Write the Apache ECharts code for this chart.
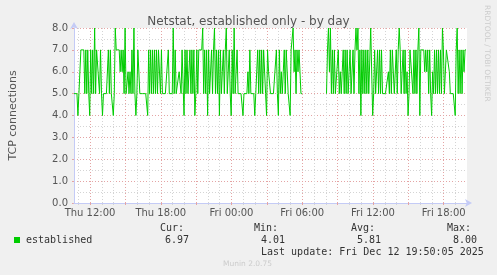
<!DOCTYPE html>
<html>
<head>
<meta charset="utf-8">
<script src="https://cdn.jsdelivr.net/npm/echarts@6/dist/echarts.min.js"></script>
<style>
html,body{margin:0;padding:0;background:#F0F0F0;}
#c{width:497px;height:275px;}
</style>
</head>
<body>
<div id="c"></div>
<script>
// ---- data (5-minute samples, TCP connections, "established") ----
const titleText = 'Netstat, established only - by day';
const yAxisName = 'TCP connections';
const startHour = 10.64;          // hours since Thu 00:00 at left edge of plot
const stepHour = 1 / 12;          // 5 minute samples
const sampleCount = 400;
const established = [
  5,5,5,5,4,5,5,7,7,7, 7,5,7,5,7,5,4,7,5,7, 5,8,5,7,7,7,5,7,5,4, 5,5,5,5,5,7,5,7,5,5,
  4,5,8,7,7,7,7,6,7,6, 7,5,8,5,5,6,5,6,5,7, 5,8,5,4,5,7,7,5,5,5, 5,5,5,5,5,4,7,5,7,5,
  7,5,7,5,7,5,7,7,5,7, 5,5,5,5,5,5,7,5,5,5, 5,8,5,7,5,5,5,6,6,5, 7,7,4,7,5,7,5,5,7,5,
  7,5,7,4,5,7,5,7,7,7, 7,8,5,7,5,7,4,7,5,5, 7,5,7,8,5,7,5,7,4,7, 5,6,7,5,7,8,5,5,7,5,
  4,7,5,8,5,5,7,5,5,5, 5,5,4,5,5,5,5,6,5,7, 5,5,5,5,4,5,5,7,5,7, 5,7,5,7,7,5,4,7,6,6,
  5,5,5,5,5,5,7,5,4,7, 5,6,5,6,7,5,7,7,5,5, 4,7,7,8,6,7,5,7,6,7, 7,5,5,null,null,null,null,null,null,null,
  null,null,null,null,null,null,null,null,null,null, null,null,null,null,null,null,null,5,7,8,
  6,8,5,7,5,7,5,5,5,7, 5,6,5,6,7,5,7,5,7,5, 6,7,5,5,7,5,7,8,7,8, 5,7,4,7,5,7,5,7,5,7,
  5,5,8,8,4,5,7,5,5,7, 5,7,5,7,5,5,5,5,5,5, 6,5,7,5,7,7,5,5,7,5, 7,8,7,5,5,7,5,7,5,6,
  4,5,7,7,7,5,7,5,7,5, 7,8,4,7,7,7,7,6,7,6, 7,5,7,5,4,6,5,7,5,7, 5,7,5,7,5,8,7,5,5,7,
  7,7,6,5,5,5,5,5,4,7, 8,5,7,5,7,5,7,6,7,7
];
const xLabelHours = [12, 18, 24, 30, 36, 42];
const xLabelTexts = ['Thu 12:00', 'Thu 18:00', 'Fri 00:00', 'Fri 06:00', 'Fri 12:00', 'Fri 18:00'];
const majorGridHours = [12, 15, 18, 21, 24, 27, 30, 33, 36, 39, 42];
const minorGridHours = [11, 13, 14, 16, 17, 19, 20, 22, 23, 25, 26, 28, 29, 31, 32, 34, 35, 37, 38, 40, 41, 43];
const statLabels = ['Cur:', 'Min:', 'Avg:', 'Max:'];
const statValues = ['6.97', '4.01', '5.81', '8.00'];
const seriesName = 'established';
const lastUpdate = 'Last update: Fri Dec 12 19:50:05 2025';
const footer = 'Munin 2.0.75';
const watermark = 'RRDTOOL / TOBI OETIKER';

// ---- build ----
const endHour = startHour + sampleCount * stepHour;
const points = established.map((v, i) => [startHour + i * stepHour, v]);

const MAJOR = '#e4a4a4';
const MINOR = '#d4d4d4';
const AXIS = '#c4cbf6';
const TXT = '#555555';
const SANS = '"DejaVu Sans", sans-serif';
const MONO = '"DejaVu Sans Mono", monospace';

const statX = [160, 254, 351, 447];
const valX = [165, 261, 357, 453];

const graphics = [
  {type:'rect', shape:{x:14, y:237, width:6, height:6}, style:{fill:'#00cc00'}},
  {type:'text', x:26, y:240, style:{text:seriesName, font:'10px '+MONO, fill:'#333', align:'left', verticalAlign:'middle', textAlign:'left', textVerticalAlign:'middle'}},
  {type:'text', x:261, y:252, style:{text:lastUpdate, font:'10px '+MONO, fill:'#333', align:'left', verticalAlign:'middle', textAlign:'left', textVerticalAlign:'middle'}},
  {type:'text', x:247.5, y:264, style:{text:footer, font:'7.5px '+SANS, fill:'#cccccc', align:'center', verticalAlign:'middle', textAlign:'center', textVerticalAlign:'middle'}},
  {type:'text', x:487, y:5, rotation:-Math.PI/2, style:{text:watermark, font:'7.5px '+SANS, fill:'#cccccc', align:'left', verticalAlign:'middle', textAlign:'left', textVerticalAlign:'middle'}}
];
statLabels.forEach((t, k) => graphics.push({type:'text', x:statX[k], y:228, style:{text:t, font:'10px '+MONO, fill:'#333', align:'left', verticalAlign:'middle', textAlign:'left', textVerticalAlign:'middle'}}));
statValues.forEach((t, k) => graphics.push({type:'text', x:valX[k], y:240, style:{text:t, font:'10px '+MONO, fill:'#333', align:'left', verticalAlign:'middle', textAlign:'left', textVerticalAlign:'middle'}}));

const chart = echarts.init(document.getElementById('c'), null, {renderer:'canvas'});
chart.setOption({
  animation: false,
  backgroundColor: '#F0F0F0',
  title: {
    text: titleText, left: 'center', top: 11,
    textStyle: {fontFamily: SANS, fontSize: 12, fontWeight: 'normal', color: TXT}
  },
  grid: {left: 67, top: 28, width: 400, height: 175, show: true, backgroundColor: '#ffffff', borderWidth: 0},
  xAxis: [
    {
      type: 'value', min: startHour, max: endHour, position: 'bottom', z: 3,
      axisLine: {show: true, lineStyle: {color: AXIS, width: 1}, symbol: ['none', 'arrow'], symbolSize: [6, 7], symbolOffset: [0, 5]},
      axisTick: {show: true, customValues: majorGridHours, length: 2, lineStyle: {color: MAJOR}},
      axisLabel: {
        customValues: xLabelHours, margin: 5, color: TXT, fontFamily: SANS, fontSize: 10,
        formatter: v => xLabelTexts[xLabelHours.indexOf(Math.round(v))] || ''
      },
      splitLine: {show: true, lineStyle: {color: MAJOR, type: [1, 2], width: 1}}
    },
    {
      type: 'value', min: startHour, max: endHour, position: 'bottom', offset: 0, z: 2,
      axisLine: {show: false},
      axisTick: {show: true, customValues: minorGridHours, length: 2, lineStyle: {color: MINOR}},
      axisLabel: {show: false},
      splitLine: {show: true, lineStyle: {color: MINOR, type: [1, 2], width: 1}}
    }
  ],
  yAxis: {
    type: 'value', min: 0, max: 8, interval: 1,
    name: yAxisName, nameLocation: 'middle', nameGap: 55, nameRotate: 90,
    nameTextStyle: {color: TXT, fontFamily: SANS, fontSize: 11},
    axisLine: {show: true, lineStyle: {color: AXIS, width: 1}, symbol: ['none', 'arrow'], symbolSize: [6, 7], symbolOffset: [0, 6]},
    axisTick: {show: true, length: 2, lineStyle: {color: MAJOR}},
    axisLabel: {margin: 6, color: TXT, fontFamily: SANS, fontSize: 10, formatter: v => v.toFixed(1)},
    splitLine: {show: true, lineStyle: {color: MAJOR, type: [1, 2], width: 1}},
    minorTick: {show: false, splitNumber: 2},
    minorSplitLine: {show: true, lineStyle: {color: MINOR, type: [1, 2], width: 1}}
  },
  series: [{
    name: seriesName, type: 'line', xAxisIndex: 0, data: points,
    showSymbol: false, symbol: 'none', connectNulls: false, z: 5,
    lineStyle: {color: '#00cc00', width: 1}
  }],
  graphic: graphics
});
</script>
</body>
</html>
